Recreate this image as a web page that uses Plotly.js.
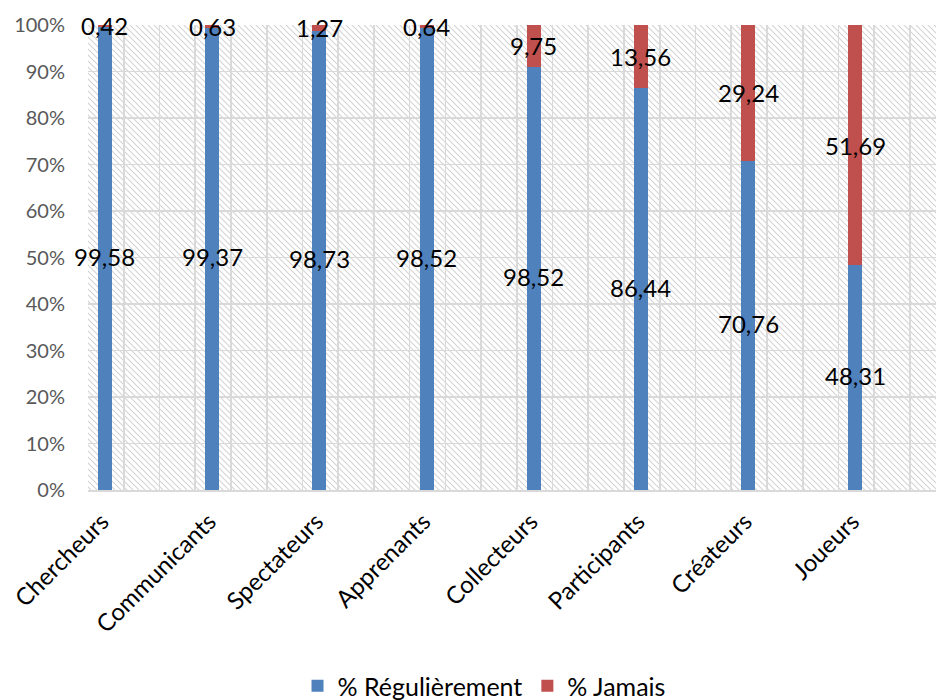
<!DOCTYPE html>
<html>
<head>
<meta charset="utf-8">
<script src="https://cdn.plot.ly/plotly-3.0.1.min.js"></script>
<style>html,body{margin:0;padding:0;background:#fff;}#chart{width:936px;height:700px;}</style>
</head>
<body>
<div id="chart"></div>
<script>
// Data
const categories = ["Chercheurs","Communicants","Spectateurs","Apprenants","Collecteurs","Participants","Créateurs","Joueurs"];
const regulierement = [99.58, 99.37, 98.73, 98.52, 98.52, 86.44, 70.76, 48.31];
const jamais = [0.42, 0.63, 1.27, 0.64, 9.75, 13.56, 29.24, 51.69];
const yTickVals = [0,10,20,30,40,50,60,70,80,90,100];
const yTickText = ["0%","10%","20%","30%","40%","50%","60%","70%","80%","90%","100%"];

const fmt = v => v.toFixed(2).replace('.', ',');
const BAR_OFFSET = -0.342;
const xBars = categories.map((c,i) => i + BAR_OFFSET);
const totals = regulierement.map((v,i) => v + jamais[i]);
const blueNorm = regulierement.map((v,i) => v / totals[i] * 100);
const redNorm = jamais.map((v,i) => v / totals[i] * 100);
const blueMid = blueNorm.map(v => v / 2);
const redMid = redNorm.map((v,i) => blueNorm[i] + v / 2);

const W = 848, H = 465;
const hatchSvg = `<svg xmlns="http://www.w3.org/2000/svg" width="${W}" height="${H}"><defs><pattern id="p" width="6" height="6" patternUnits="userSpaceOnUse"><path d="M0,0 L6,6 M-1,5 L1,7 M5,-1 L7,1" stroke="#d4d4d4" stroke-width="1.1"/></pattern></defs><rect width="${W}" height="${H}" fill="#ffffff"/><rect width="${W}" height="${H}" fill="url(#p)"/></svg>`;
const hatchUri = 'data:image/svg+xml;base64,' + btoa(hatchSvg);

const traces = [
  {type:'bar', name:'% Régulièrement', x:xBars, y:regulierement, width:0.13,
   marker:{color:'#4F81BD'}, hoverinfo:'skip'},
  {type:'bar', name:'% Jamais', x:xBars, y:jamais, width:0.13,
   marker:{color:'#C0504D'}, hoverinfo:'skip'}
];

const labelFont = {family:'Lato, sans-serif', size:24, color:'#000'};
const annotations = [];
xBars.forEach((x,i) => {
  annotations.push({x:x, y:blueMid[i], xref:'x', yref:'y', text:fmt(regulierement[i]),
    showarrow:false, font:labelFont, yshift:2, xanchor:'center', yanchor:'middle'});
  annotations.push({x:x, y:redMid[i], xref:'x', yref:'y', text:fmt(jamais[i]),
    showarrow:false, font:labelFont, yshift:0, xanchor:'center', yanchor:'middle'});
});

const layout = {
  width:936, height:700,
  margin:{l:88, r:0, t:25, b:210, autoexpand:false},
  paper_bgcolor:'#ffffff', plot_bgcolor:'rgba(0,0,0,0)',
  barmode:'stack', barnorm:'percent',
  font:{family:'Lato, sans-serif', size:20, color:'#404040'},
  xaxis:{range:[-0.5, 7.41], tickmode:'array', tickvals:categories.map((c,i)=>i-0.37), ticktext:categories,
    tickangle:-45, showgrid:false, zeroline:false, showline:true, linecolor:'#d9d9d9', linewidth:2,
    automargin:false,
    ticks:'', ticklabelstandoff:6, tickfont:{family:'Lato, sans-serif', size:24, color:'#000'},
    minor:{dtick:1/3, tick0:-0.5, showgrid:true, gridcolor:'#d9d9d9', gridwidth:1.7, ticks:''}},
  yaxis:{range:[0,100], tickmode:'array', tickvals:yTickVals, ticktext:yTickText, automargin:false,
    showgrid:true, gridcolor:'#d9d9d9', gridwidth:1.7, zeroline:false, showline:false,
    ticks:'', ticklabelstandoff:22, tickfont:{family:'Lato, sans-serif', size:20, color:'#595959'}},
  legend:{orientation:'h', x:0.467, xanchor:'center', yref:'container', y:0.02, yanchor:'middle',
    font:{family:'Lato, sans-serif', size:25, color:'#000'}, itemwidth:30, traceorder:'normal'},
  annotations: annotations,
  images:[{source:hatchUri, xref:'paper', yref:'paper', x:0, y:1, sizex:1, sizey:1,
    sizing:'stretch', layer:'below', xanchor:'left', yanchor:'top'}],
  showlegend:true
};

Plotly.newPlot('chart', traces, layout, {displayModeBar:false, staticPlot:true});
</script>
</body>
</html>
